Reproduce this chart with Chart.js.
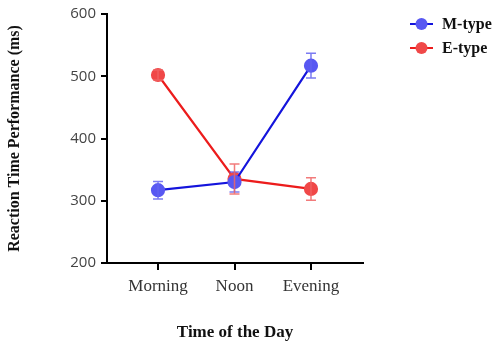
<!DOCTYPE html>
<html>
<head>
<meta charset="utf-8">
<script src="https://cdn.jsdelivr.net/npm/chart.js@4.4.1/dist/chart.umd.min.js"></script>
<style>
  body { margin: 0; background: #fff; }
  #wrap { width: 498px; height: 348px; }
</style>
</head>
<body>
<div id="wrap"><canvas id="rtChart" width="498" height="348"></canvas></div>
<script>
const categories = ['Morning', 'Noon', 'Evening'];
const mTypeMean = [317, 330, 517];
const mTypeErr = [14, 16, 20];
const eTypeMean = [502, 335, 319];
const eTypeErr = [8, 24, 18];
const yTicks = [200, 300, 400, 500, 600];

const serif = '"Liberation Serif", "Times New Roman", serif';

function toPoints(values) {
    return values.map((v, i) => ({ x: i, y: v }));
}

// error bars drawn through the chart scales
const errorBars = {
    id: 'errorBars',
    afterDatasetsDraw(chart) {
        const ctx = chart.ctx;
        const x = chart.scales.x;
        const y = chart.scales.y;
        chart.data.datasets.forEach((ds) => {
            ctx.save();
            ctx.strokeStyle = ds.errorColor;
            ctx.lineWidth = 1.5;
            ds.data.forEach((pt, i) => {
                const px = x.getPixelForValue(pt.x);
                const top = y.getPixelForValue(pt.y + ds.errors[i]);
                const bot = y.getPixelForValue(pt.y - ds.errors[i]);
                ctx.beginPath();
                ctx.moveTo(px, top);
                ctx.lineTo(px, bot);
                ctx.moveTo(px - 5, top);
                ctx.lineTo(px + 5, top);
                ctx.moveTo(px - 5, bot);
                ctx.lineTo(px + 5, bot);
                ctx.stroke();
            });
            ctx.restore();
        });
    }
};

// legend at top right: line + circle marker, bold label
const sideLegend = {
    id: 'sideLegend',
    afterDraw(chart) {
        const ctx = chart.ctx;
        chart.data.datasets.forEach((ds, i) => {
            const cy = 24 + i * 24;
            ctx.save();
            ctx.strokeStyle = ds.borderColor;
            ctx.lineWidth = 2;
            ctx.beginPath();
            ctx.moveTo(410, cy);
            ctx.lineTo(433, cy);
            ctx.stroke();
            ctx.fillStyle = ds.pointBackgroundColor;
            ctx.beginPath();
            ctx.arc(421.5, cy, 6, 0, Math.PI * 2);
            ctx.fill();
            ctx.fillStyle = '#111';
            ctx.font = 'bold 16px ' + serif;
            ctx.textBaseline = 'middle';
            ctx.fillText(ds.label, 442, cy + 1);
            ctx.restore();
        });
    }
};

const ctx = document.getElementById('rtChart').getContext('2d');
const rtChart = new Chart(ctx, {
    type: 'line',
    data: {
        datasets: [
            {
                label: 'M-type',
                data: toPoints(mTypeMean),
                errors: mTypeErr,
                borderColor: '#1414dc',
                pointBackgroundColor: '#5858f2',
                pointBorderColor: '#5858f2',
                errorColor: 'rgba(100, 100, 240, 0.85)',
                borderWidth: 2.2,
                pointRadius: 6,
                fill: false,
                tension: 0
            },
            {
                label: 'E-type',
                data: toPoints(eTypeMean),
                errors: eTypeErr,
                borderColor: '#ec1c1c',
                pointBackgroundColor: '#f04848',
                pointBorderColor: '#f04848',
                errorColor: 'rgba(240, 100, 100, 0.85)',
                borderWidth: 2.2,
                pointRadius: 6,
                fill: false,
                tension: 0
            }
        ]
    },
    options: {
        responsive: false,
        animation: false,
        layout: { padding: { left: 0, top: 10, right: 135, bottom: 0 } },
        plugins: {
            legend: { display: false },
            tooltip: { enabled: false }
        },
        scales: {
            x: {
                type: 'linear',
                min: -0.667,
                max: 2.68,
                afterBuildTicks: (scale) => {
                    scale.ticks = categories.map((c, i) => ({ value: i }));
                },
                afterFit: (scale) => { scale.height = 85; },
                border: { display: true, color: '#000', width: 2 },
                grid: { drawOnChartArea: false, color: '#000', lineWidth: 2, tickLength: 7 },
                ticks: {
                    padding: 6,
                    color: '#333',
                    font: { family: serif, size: 17 },
                    callback: (v) => categories[v]
                },
                title: {
                    display: true,
                    text: 'Time of the Day',
                    color: '#111',
                    font: { family: serif, size: 17, weight: 'bold' },
                    padding: { top: 4, bottom: 5 }
                }
            },
            y: {
                min: 200,
                max: 600,
                afterBuildTicks: (scale) => {
                    scale.ticks = yTicks.map((v) => ({ value: v }));
                },
                afterFit: (scale) => { scale.width = 107; },
                border: { display: true, color: '#000', width: 2 },
                grid: { drawOnChartArea: false, color: '#000', lineWidth: 2, tickLength: 6 },
                ticks: {
                    padding: 5,
                    color: '#444',
                    font: { family: '"Open Sans", sans-serif', size: 15 }
                },
                title: {
                    display: true,
                    text: 'Reaction Time Performance (ms)',
                    color: '#111',
                    font: { family: serif, size: 16, weight: 'bold' },
                    padding: { top: 5, bottom: 0 }
                }
            }
        }
    },
    plugins: [errorBars, sideLegend]
});
</script>
</body>
</html>
